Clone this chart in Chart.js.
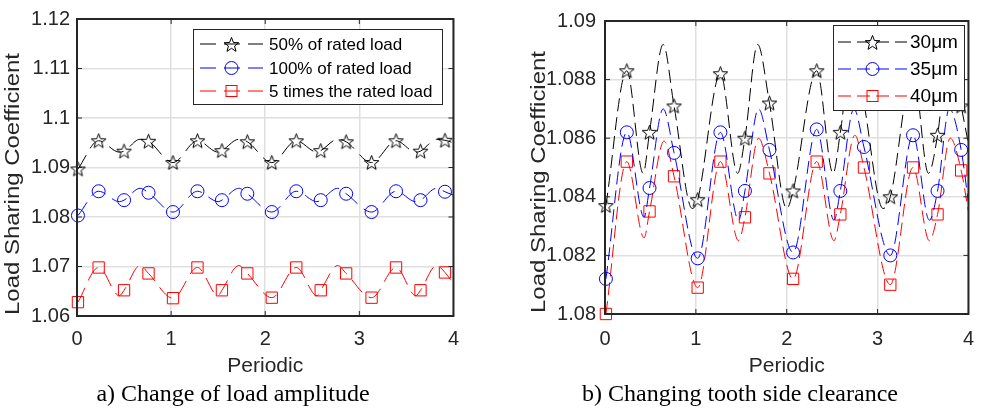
<!DOCTYPE html>
<html>
<head>
<meta charset="utf-8">
<script src="https://cdn.jsdelivr.net/npm/chart.js@4.4.1/dist/chart.umd.min.js"></script>
<style>
  body { margin: 0; background: #fff; width: 987px; height: 411px; overflow: hidden; position: relative; }
  .box { position: absolute; top: 0; height: 411px; }
  .cap { position: absolute; top: 380px; line-height: 26px; font-family: 'Liberation Serif', 'Times New Roman', serif;
         font-size: 24px; color: #000; white-space: nowrap; transform: translateX(-50%); }
</style>
</head>
<body>
<div class="box" style="left:0;width:470px"><canvas id="chartA"></canvas></div>
<div class="box" style="left:526px;width:461px"><canvas id="chartB"></canvas></div>
<div class="cap" style="left:233px">a) Change of load amplitude</div>
<div class="cap" style="left:740px">b) Changing tooth side clearance</div>
<script>
// ---- a) load amplitude ----
const xTicks = [0, 1, 2, 3, 4];
const yTicksA = [1.06, 1.07, 1.08, 1.09, 1.1, 1.11, 1.12];
const markXA = [0.01, 0.23, 0.50, 0.76, 1.02, 1.28, 1.54, 1.81, 2.07, 2.33, 2.59, 2.86, 3.13, 3.39, 3.65, 3.91];
const load50 = [1.0897, 1.0954, 1.0933, 1.0953, 1.0910, 1.0954, 1.0934, 1.0952, 1.0910, 1.0954, 1.0934, 1.0952, 1.0910, 1.0954, 1.0933, 1.0955];
const load100 = [1.0803, 1.0852, 1.0834, 1.0849, 1.0810, 1.0852, 1.0834, 1.0847, 1.0810, 1.0852, 1.0834, 1.0847, 1.0810, 1.0852, 1.0834, 1.0851];
const load5x = [1.0628, 1.0698, 1.0652, 1.0686, 1.0636, 1.0698, 1.0652, 1.0686, 1.0637, 1.0698, 1.0652, 1.0686, 1.0637, 1.0698, 1.0652, 1.0688];
// turning points of the curves between the markers
const bendXA = [0.45, 0.67, 1.50, 1.72, 2.55, 2.77, 3.60, 3.82, 4.0];
const load50Bend = [1.0931, 1.0957, 1.0931, 1.0957, 1.0931, 1.0957, 1.0931, 1.0957, 1.0950];
const load100Bend = [1.0831, 1.0858, 1.0831, 1.0858, 1.0831, 1.0858, 1.0831, 1.0858, 1.0844];
const load5xBend = [1.0641, 1.0702, 1.0641, 1.0702, 1.0641, 1.0702, 1.0641, 1.0702, 1.0665];
const labelsA = ['50% of rated load', '100% of rated load', '5 times the rated load'];

// ---- b) tooth side clearance ----
const yTicksB = [1.08, 1.082, 1.084, 1.086, 1.088, 1.09];
const markXB = [0.01, 0.24, 0.49, 0.76, 1.02, 1.27, 1.54, 1.81, 2.07, 2.33, 2.59, 2.85, 3.14, 3.39, 3.66, 3.92];
const gap30 = [1.0837, 1.0883, 1.0862, 1.0871, 1.0839, 1.0882, 1.0860, 1.0872, 1.0842, 1.0883, 1.0862, 1.0872, 1.0840, 1.0883, 1.0861, 1.0871];
const gap35 = [1.0812, 1.0862, 1.0843, 1.0855, 1.0819, 1.0862, 1.0842, 1.0856, 1.0821, 1.0863, 1.0842, 1.0857, 1.0820, 1.0861, 1.0842, 1.0856];
const gap40 = [1.0800, 1.0852, 1.0835, 1.0847, 1.0809, 1.0852, 1.0833, 1.0848, 1.0812, 1.0852, 1.0834, 1.0850, 1.0810, 1.0850, 1.0834, 1.0849];
const gap30BendX = [0.42, 0.64, 0.96, 1.46, 1.68, 2.00, 2.51, 2.73, 3.06, 3.56, 3.79, 4.0];
const gap30Bend = [1.0848, 1.0892, 1.0836, 1.0848, 1.0892, 1.0836, 1.0848, 1.0892, 1.0836, 1.0848, 1.0892, 1.0858];
const gap35BendX = [0.43, 0.64, 1.47, 1.69, 2.52, 2.74, 3.57, 3.79, 4.0];
const gap35Bend = [1.0833, 1.0870, 1.0832, 1.0870, 1.0832, 1.0870, 1.0832, 1.0870, 1.0838];
const gap40BendX = [0.43, 0.65, 1.47, 1.69, 2.52, 2.75, 3.57, 3.80, 4.0];
const gap40Bend = [1.0826, 1.0859, 1.0825, 1.0860, 1.0825, 1.0861, 1.0825, 1.0860, 1.0835];
const labelsB = ['30\u03bcm', '35\u03bcm', '40\u03bcm'];

const SANS = "'Liberation Sans', Arial, sans-serif";
const INK = '#262626';
const Y_TITLE = 'Load Sharing Coefficient';

// hollow pentagram like matlab's 'p' marker
function starImage(size, color) {
    const c = document.createElement('canvas');
    c.width = c.height = size;
    const g = c.getContext('2d');
    const R = size / 2 - 0.8, r = R * 0.42;
    g.beginPath();
    for (let i = 0; i < 10; i++) {
        const rad = i % 2 ? r : R;
        const a = -Math.PI / 2 + i * Math.PI / 5;
        const px = size / 2 + rad * Math.cos(a), py = size / 2 + 0.6 + rad * Math.sin(a);
        if (i) g.lineTo(px, py); else g.moveTo(px, py);
    }
    g.closePath();
    g.strokeStyle = color;
    g.lineWidth = 1;
    g.stroke();
    return c;
}
const star = starImage(17, '#000');

function series(markX, markY, bendX, bendY, color, marker, size, dash) {
    const pts = markX.map((x, i) => ({ x, y: markY[i], mark: true }))
        .concat(bendX.map((x, i) => ({ x, y: bendY[i], mark: false })))
        .sort((a, b) => a.x - b.x);
    return {
        data: pts,
        borderColor: color,
        backgroundColor: 'rgba(0,0,0,0)',
        borderWidth: 1,
        borderDash: dash,
        pointStyle: marker,
        pointRadius: pts.map(p => p.mark ? size : 0),
        pointBorderColor: color,
        pointBackgroundColor: 'rgba(0,0,0,0)',
        pointBorderWidth: 1,
        cubicInterpolationMode: 'monotone',
        clip: false
    };
}

// box, inward ticks, y title and the legend, drawn the matlab way
const matlabAxes = {
    id: 'matlabAxes',
    afterDraw(chart, args, opts) {
        const { ctx, chartArea: a, scales: { x, y } } = chart;
        ctx.save();
        ctx.strokeStyle = INK;
        ctx.lineWidth = 1;
        ctx.beginPath();
        x.ticks.forEach(t => {
            const px = x.getPixelForValue(t.value);
            ctx.moveTo(px, a.bottom); ctx.lineTo(px, a.bottom - 5);
            ctx.moveTo(px, a.top); ctx.lineTo(px, a.top + 5);
        });
        y.ticks.forEach(t => {
            const py = y.getPixelForValue(t.value);
            ctx.moveTo(a.left, py); ctx.lineTo(a.left + 5, py);
            ctx.moveTo(a.right, py); ctx.lineTo(a.right - 5, py);
        });
        ctx.stroke();
        ctx.lineWidth = 2;
        ctx.strokeRect(a.left, a.top, a.right - a.left, a.bottom - a.top);

        // y title, stretched along its length like the source figure
        const T = opts.yTitle;
        ctx.save();
        ctx.translate(T.x, T.y);
        ctx.rotate(-Math.PI / 2);
        ctx.font = T.font + 'px ' + SANS;
        ctx.fillStyle = INK;
        ctx.textAlign = 'center';
        ctx.textBaseline = 'middle';
        ctx.scale(T.len / ctx.measureText(Y_TITLE).width, 1);
        ctx.fillText(Y_TITLE, 0, 0);
        ctx.restore();

        const L = opts.legend;
        ctx.fillStyle = '#fff';
        ctx.fillRect(L.x, L.y, L.w, L.h);
        ctx.lineWidth = 1;
        ctx.strokeStyle = INK;
        ctx.strokeRect(L.x + 0.5, L.y + 0.5, L.w, L.h);
        ctx.font = L.font + 'px ' + SANS;
        ctx.textBaseline = 'middle';
        chart.data.datasets.forEach((ds, i) => {
            const ry = L.rows[i];
            ctx.strokeStyle = ds.borderColor;
            ctx.setLineDash(ds.borderDash);
            ctx.beginPath();
            ctx.moveTo(L.x0, ry); ctx.lineTo(L.x1, ry);
            ctx.stroke();
            ctx.setLineDash([]);
            const mx = (L.x0 + L.x1) / 2;
            const s = ds.pointStyle;
            if (s === 'circle') {
                ctx.beginPath(); ctx.arc(mx, ry, 6.5, 0, Math.PI * 2); ctx.stroke();
            } else if (s === 'rect') {
                ctx.strokeRect(mx - 5.5, ry - 5.5, 11, 11);
            } else {
                ctx.drawImage(s, Math.round(mx - s.width / 2), Math.round(ry - s.height / 2));
            }
            ctx.fillStyle = '#000';
            ctx.fillText(ds.label, L.tx, ry + 1);
        });
        ctx.restore();
    }
};

function makeChart(id, datasets, yTicks, yMin, yMax, dims, legend, yTitle) {
    return new Chart(document.getElementById(id), {
        type: 'line',
        data: { datasets },
        options: {
            responsive: true,
            maintainAspectRatio: false,
            animation: false,
            layout: { padding: { left: 0, right: dims.right, top: dims.top, bottom: 0 } },
            plugins: { legend: { display: false }, tooltip: { enabled: false }, matlabAxes: { legend, yTitle } },
            scales: {
                x: {
                    type: 'linear', min: 0, max: 4,
                    afterBuildTicks: s => { s.ticks = xTicks.map(v => ({ value: v })); },
                    afterFit: s => { s.height = dims.xh; },
                    grid: { color: '#dfdfdf', lineWidth: 1.5, drawTicks: false },
                    border: { display: false },
                    ticks: { color: INK, font: { family: SANS, size: 20 }, padding: dims.xpad, maxRotation: 0 },
                    title: { display: true, text: 'Periodic', color: INK, font: { family: SANS, size: 21 },
                             padding: { top: 0, bottom: 32 } }
                },
                y: {
                    type: 'linear', min: yMin, max: yMax,
                    afterBuildTicks: s => { s.ticks = yTicks.map(v => ({ value: v })); },
                    afterFit: s => { s.width = dims.yw; },
                    grid: { color: '#dfdfdf', lineWidth: 1.5, drawTicks: false },
                    border: { display: false },
                    ticks: { color: INK, font: { family: SANS, size: 20 }, padding: dims.ypad,
                             callback: v => String(+v.toFixed(4)) },
                    title: { display: false }
                }
            }
        },
        plugins: [matlabAxes]
    });
}

const dashA = [16, 8];
const dsA = [
    Object.assign(series(markXA, load50, bendXA, load50Bend, '#000000', star, 7, dashA), { label: labelsA[0] }),
    Object.assign(series(markXA, load100, bendXA, load100Bend, '#0000ff', 'circle', 6.5, dashA), { label: labelsA[1] }),
    Object.assign(series(markXA, load5x, bendXA, load5xBend, '#ff0000', 'rect', 8, dashA), { label: labelsA[2] })
];
makeChart('chartA', dsA, yTicksA, 1.06, 1.12,
    { right: 13, top: 15, xh: 95, yw: 77, xpad: 11, ypad: 7 },
    { x: 193, y: 29, w: 249, h: 75, rows: [44, 68, 91], x0: 200, x1: 263, tx: 269, font: 17 },
    { x: 13, y: 184, len: 262, font: 21 });

const dashB = [13, 6];
const dsB = [
    Object.assign(series(markXB, gap30, gap30BendX, gap30Bend, '#000000', star, 7, dashB), { label: labelsB[0] }),
    Object.assign(series(markXB, gap35, gap35BendX, gap35Bend, '#0000ff', 'circle', 6.5, dashB), { label: labelsB[1] }),
    Object.assign(series(markXB, gap40, gap40BendX, gap40Bend, '#ff0000', 'rect', 8, dashB), { label: labelsB[2] })
];
makeChart('chartB', dsB, yTicksB, 1.08, 1.09,
    { right: 9, top: 13, xh: 97, yw: 79, xpad: 13, ypad: 9 },
    { x: 307, y: 25, w: 131, h: 85, rows: [42, 69, 96], x0: 312, x1: 381, tx: 384, font: 19 },
    { x: 13, y: 182, len: 262, font: 21 });
</script>
</body>
</html>
